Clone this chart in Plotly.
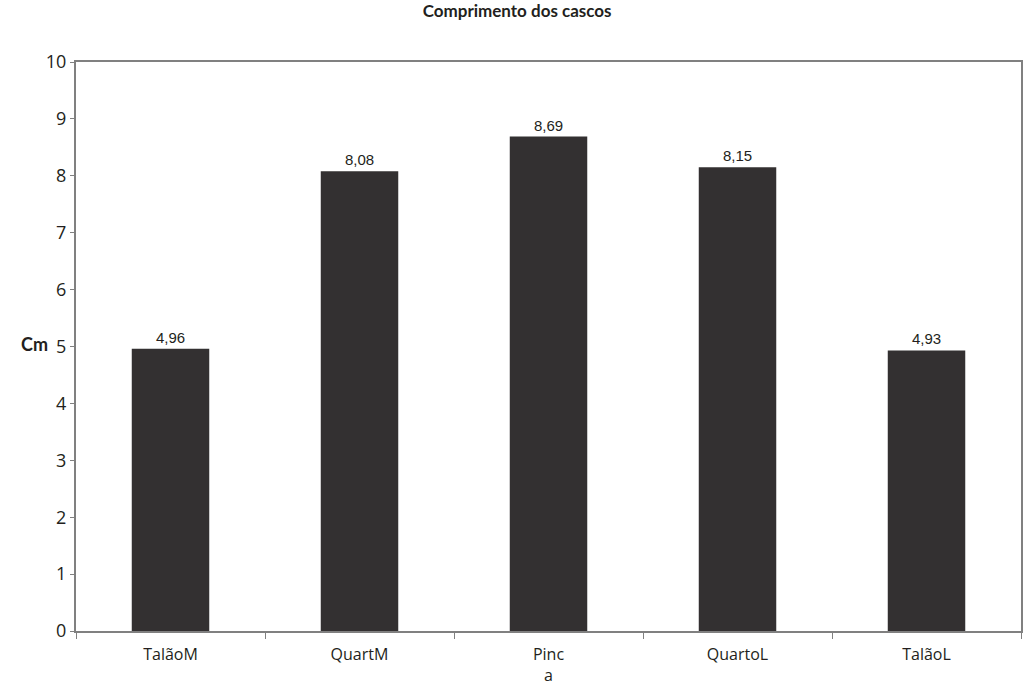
import plotly.graph_objects as go

categories = ["TalãoM", "QuartM", "Pinc<br>a", "QuartoL", "TalãoL"]
values = [4.96, 8.08, 8.69, 8.15, 4.93]
value_labels = ["4,96", "8,08", "8,69", "8,15", "4,93"]
y_ticks = [0, 1, 2, 3, 4, 5, 6, 7, 8, 9, 10]

fig = go.Figure(go.Bar(
    x=categories, y=values, text=value_labels, textposition="outside",
    textfont=dict(family="Liberation Sans, Arial", size=15, color="#231f20"),
    marker=dict(color="#333031", line=dict(width=0)),
    width=0.41, cliponaxis=False,
))

fig.update_layout(
    width=1024, height=686,
    margin=dict(l=76, r=3, t=62, b=55),
    paper_bgcolor="white", plot_bgcolor="white",
    showlegend=False,
    title=dict(text="<b>Comprimento dos cascos</b>", x=0.505, xanchor="center",
               y=0.993, yanchor="top",
               font=dict(family="Lato, Open Sans", size=17, color="#231f20")),
    font=dict(family="Lato, Open Sans", color="#231f20"),
    annotations=[dict(text="<b>Cm</b>", xref="paper", yref="paper", x=-0.027, y=0.505,
                      xanchor="right", yanchor="middle", showarrow=False,
                      font=dict(family="Lato, Open Sans", size=18, color="#231f20"))],
)
fig.update_xaxes(
    showline=True, linecolor="#808080", linewidth=2, mirror=True,
    ticks="outside", tickson="boundaries", ticklen=6, tickcolor="#808080",
    ticklabelstandoff=8, automargin=False,
    tickfont=dict(family="Open Sans", size=16, color="#231f20"),
    showgrid=False,
)
fig.update_yaxes(
    range=[0, 10], tickvals=y_ticks, showline=True, linecolor="#808080", linewidth=2,
    mirror=True, ticks="outside", ticklen=4, tickcolor="#808080", automargin=False,
    tickfont=dict(family="Open Sans", size=18, color="#231f20"),
    showgrid=False, zeroline=False,
)

fig.write_html("out.html", config={"displayModeBar": False},
               post_script="document.body.style.margin='0';document.body.style.overflow='hidden';")
